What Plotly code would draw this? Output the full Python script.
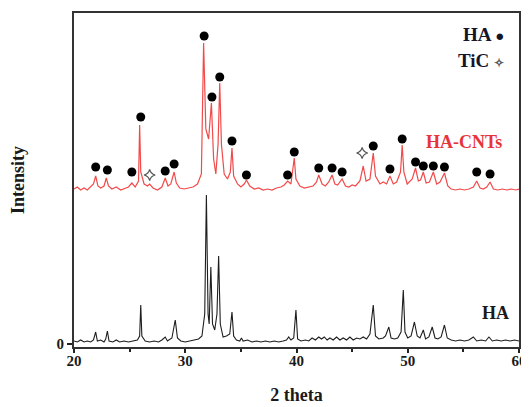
import plotly.graph_objects as go

# ---- data (2-theta, intensity in arbitrary units) ----
ha_points = [(20.0,3),(20.3,2),(20.6,4),(20.9,2),(21.2,3),(21.5,2),(21.75,4),(21.95,12),(22.1,3),(22.4,4),(22.7,2),(22.85,5),(23.0,13),(23.15,3),(23.5,2),(23.8,4),(24.1,2),(24.5,3),(24.9,2),(25.3,3),(25.7,4),(25.9,8),(26.0,39),(26.1,8),(26.4,3),(26.8,2),(27.2,3),(27.6,2),(27.9,4),(28.2,7),(28.4,3),(28.8,6),(29.1,24),(29.3,6),(29.6,3),(30.0,2),(30.4,3),(30.8,4),(31.2,5),(31.5,8),(31.75,30),(31.9,149),(32.05,30),(32.15,20),(32.3,77),(32.45,20),(32.65,14),(32.85,30),(33.0,88),(33.15,20),(33.4,7),(33.7,8),(34.0,10),(34.2,32),(34.35,8),(34.6,4),(34.9,3),(35.05,6),(35.2,3),(35.6,4),(36.0,2),(36.4,3),(36.8,2),(37.2,3),(37.6,2),(38.0,3),(38.4,2),(38.8,3),(39.1,4),(39.3,7),(39.5,4),(39.75,6),(39.95,34),(40.1,5),(40.4,3),(40.8,4),(41.1,3),(41.4,6),(41.7,4),(42.0,7),(42.25,5),(42.5,7),(42.75,4),(43.0,6),(43.3,4),(43.6,7),(43.9,4),(44.2,6),(44.5,4),(44.8,7),(45.1,4),(45.4,6),(45.7,5),(46.0,7),(46.3,5),(46.6,10),(46.9,39),(47.1,8),(47.4,5),(47.8,6),(48.0,8),(48.3,17),(48.5,6),(48.8,5),(49.1,6),(49.4,12),(49.6,54),(49.75,12),(50.0,6),(50.3,8),(50.6,22),(50.85,8),(51.1,6),(51.4,14),(51.6,5),(51.9,7),(52.2,17),(52.45,6),(52.7,5),(53.0,7),(53.3,19),(53.55,6),(53.9,4),(54.3,3),(54.7,4),(55.1,3),(55.5,4),(55.9,7),(56.2,3),(56.6,4),(57.0,3),(57.3,7),(57.6,3),(58.0,4),(58.4,3),(58.8,4),(59.2,3),(59.6,4),(60.0,3)]

hacnt_points = [(20.0,155),(20.3,157),(20.6,154),(20.9,156),(21.2,154),(21.5,157),(21.75,160),(21.95,168),(22.15,158),(22.4,156),(22.7,158),(22.9,166),(23.1,158),(23.4,155),(23.8,157),(24.2,154),(24.6,156),(24.9,157),(25.2,161),(25.5,157),(25.8,163),(25.9,219),(26.0,172),(26.3,160),(26.6,158),(26.8,160),(27.1,156),(27.5,154),(27.9,157),(28.2,166),(28.45,158),(28.7,160),(29.0,172),(29.2,161),(29.5,156),(29.9,155),(30.3,156),(30.7,157),(31.1,160),(31.45,170),(31.65,301),(31.85,215),(32.1,205),(32.35,241),(32.55,185),(32.75,170),(32.95,200),(33.1,261),(33.25,200),(33.5,170),(33.8,165),(34.05,172),(34.2,196),(34.35,168),(34.7,160),(35.0,157),(35.3,160),(35.5,164),(35.8,158),(36.2,155),(36.6,156),(37.0,154),(37.4,155),(37.8,154),(38.2,156),(38.6,157),(38.9,159),(39.2,163),(39.5,160),(39.8,186),(39.95,165),(40.3,158),(40.7,156),(41.1,157),(41.5,158),(41.8,162),(42.0,169),(42.3,160),(42.6,158),(42.9,162),(43.2,169),(43.45,160),(43.7,159),(44.1,165),(44.4,158),(44.7,157),(45.0,159),(45.3,158),(45.7,163),(46.0,178),(46.25,163),(46.6,165),(46.9,191),(47.1,168),(47.5,160),(47.8,162),(48.1,160),(48.4,168),(48.7,160),(49.0,162),(49.35,172),(49.5,199),(49.65,172),(49.95,160),(50.4,165),(50.7,176),(50.95,163),(51.15,164),(51.4,172),(51.65,161),(51.95,162),(52.3,172),(52.6,160),(52.9,162),(53.3,171),(53.6,158),(53.9,155),(54.3,154),(54.7,155),(55.1,154),(55.5,155),(55.9,157),(56.2,163),(56.5,156),(56.8,155),(57.1,157),(57.4,162),(57.7,155),(58.1,154),(58.5,155),(58.9,154),(59.3,155),(59.7,154),(60.0,155)]

# phase markers on HA-CNTs pattern
ha_marker_x = [21.95, 23.0, 25.2, 26.0, 28.2, 29.0, 31.7, 32.4, 33.1, 34.2, 35.5, 39.2, 39.8, 42.0, 43.2, 44.1, 46.9, 48.4, 49.5, 50.7, 51.4, 52.3, 53.3, 56.2, 57.4]
ha_marker_y = [177, 174, 172, 227, 173, 180, 308, 247, 267, 203, 169, 169, 192, 176, 176, 172, 198, 175, 205, 182, 178, 178, 177, 172, 170]
tic_marker_x = [26.8, 45.9]
tic_marker_y = [169, 191]

x_ticks = [20, 30, 40, 50, 60]
y_ticks = [0]

SERIF = "Liberation Serif"

fig = go.Figure()
fig.add_trace(go.Scatter(x=[p[0] for p in ha_points], y=[p[1] for p in ha_points],
                         mode="lines", line=dict(color="#1e1e1e", width=1.1), showlegend=False))
fig.add_trace(go.Scatter(x=[p[0] for p in hacnt_points], y=[p[1] for p in hacnt_points],
                         mode="lines", line=dict(color="#f24a4a", width=1.2), showlegend=False))
fig.add_trace(go.Scatter(x=ha_marker_x, y=ha_marker_y, mode="markers",
                         marker=dict(symbol="circle", size=9, color="black"), showlegend=False))
fig.add_trace(go.Scatter(x=tic_marker_x, y=tic_marker_y, mode="markers",
                         marker=dict(symbol="star-diamond-open", size=8, color="#555555",
                                     line=dict(width=1.2, color="#555555")), showlegend=False))

# The page body has an 8px margin, so the figure is 8px smaller and shifted.
fig.update_layout(
    width=521, height=399,
    margin=dict(l=66, r=10, t=5, b=60),
    paper_bgcolor="white", plot_bgcolor="white",
    font=dict(family=SERIF, color="#1a1a1a"),
    xaxis=dict(range=[20, 60], tickvals=x_ticks, ticks="outside", ticklen=4, tickwidth=1.5,
               tickcolor="#222", showline=True, linecolor="#333", linewidth=2, mirror=True,
               showgrid=False, zeroline=False, automargin=False, ticklabelstandoff=-5,
               minor=dict(tickvals=[25, 35, 45, 55], ticks="outside", ticklen=3, tickcolor="#222"),
               tickfont=dict(family=SERIF, size=15, weight="bold", color="#1a1a1a"),
               title=dict(text="2 theta", font=dict(family=SERIF, size=18, weight="bold"), standoff=20)),
    yaxis=dict(range=[-3, 331], tickvals=y_ticks, ticks="outside", ticklen=5, tickwidth=1.5,
               tickcolor="#222", showline=True, linecolor="#333", linewidth=2, mirror=True,
               showgrid=False, zeroline=False, automargin=False,
               tickfont=dict(family=SERIF, size=15, weight="bold", color="#1a1a1a"),
               title=dict(text="Intensity", font=dict(family=SERIF, size=18, weight="bold"), standoff=30)),
)

def px(xp):
    return (xp - 74) / 445.0

def py(yp):
    return (347 - yp) / 334.0

ann = [
    dict(text="HA <span style='font-size:15px'>●</span>", x=px(506), y=py(35), xanchor="right",
         font=dict(family=SERIF, size=19, weight="bold", color="#14142a")),
    dict(text="TiC <span style='font-size:12px;color:#555'>✧</span>", x=px(506), y=py(60), xanchor="right",
         font=dict(family=SERIF, size=19, weight="bold", color="#14142a")),
    dict(text="HA-CNTs", x=px(464), y=py(142), xanchor="center",
         font=dict(family=SERIF, size=18, weight="bold", color="#e8333a")),
    dict(text="HA", x=px(495), y=py(313), xanchor="center",
         font=dict(family=SERIF, size=18, weight="bold", color="#1a1a1a")),
]
for a in ann:
    fig.add_annotation(xref="paper", yref="paper", yanchor="middle", showarrow=False, **a)

fig.write_html("out.html")
